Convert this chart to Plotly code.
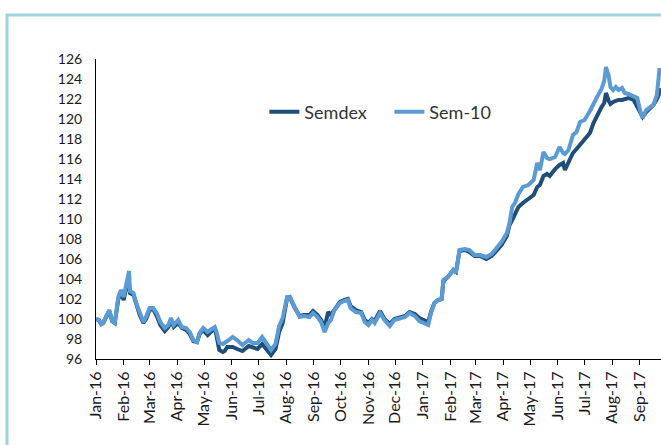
import plotly.graph_objects as go

dates = [
    "2016-01-01", "2016-01-04", "2016-01-07", "2016-01-09", "2016-01-13", "2016-01-16", "2016-01-19", "2016-01-22",
    "2016-01-26", "2016-01-29", "2016-02-01", "2016-02-04", "2016-02-07", "2016-02-08", "2016-02-12", "2016-02-15",
    "2016-02-19", "2016-02-23", "2016-02-26", "2016-03-01", "2016-03-05", "2016-03-09", "2016-03-13", "2016-03-18",
    "2016-03-22", "2016-03-25", "2016-03-28", "2016-04-02", "2016-04-06", "2016-04-11", "2016-04-15", "2016-04-19",
    "2016-04-23", "2016-04-26", "2016-04-30", "2016-05-05", "2016-05-08", "2016-05-13", "2016-05-15", "2016-05-18",
    "2016-05-22", "2016-05-24", "2016-05-27", "2016-06-02", "2016-06-07", "2016-06-13", "2016-06-20", "2016-06-24",
    "2016-06-30", "2016-07-05", "2016-07-10", "2016-07-15", "2016-07-20", "2016-07-24", "2016-07-28", "2016-07-31",
    "2016-08-02", "2016-08-05", "2016-08-10", "2016-08-16", "2016-08-21", "2016-08-27", "2016-08-31", "2016-09-05",
    "2016-09-09", "2016-09-13", "2016-09-17", "2016-09-20", "2016-09-24", "2016-09-30", "2016-10-05", "2016-10-09",
    "2016-10-12", "2016-10-18", "2016-10-24", "2016-10-28", "2016-11-01", "2016-11-05", "2016-11-08", "2016-11-14",
    "2016-11-19", "2016-11-25", "2016-11-30", "2016-12-06", "2016-12-12", "2016-12-17", "2016-12-23", "2016-12-28",
    "2017-01-03", "2017-01-07", "2017-01-10", "2017-01-14", "2017-01-18", "2017-01-22", "2017-01-24", "2017-01-29",
    "2017-02-04", "2017-02-07", "2017-02-11", "2017-02-17", "2017-02-22", "2017-02-28", "2017-03-06", "2017-03-13",
    "2017-03-19", "2017-03-25", "2017-03-30", "2017-04-05", "2017-04-08", "2017-04-11", "2017-04-14", "2017-04-18",
    "2017-04-23", "2017-04-29", "2017-05-05", "2017-05-09", "2017-05-12", "2017-05-16", "2017-05-20", "2017-05-23",
    "2017-05-29", "2017-06-03", "2017-06-07", "2017-06-09", "2017-06-13", "2017-06-18", "2017-06-22", "2017-06-26",
    "2017-07-01", "2017-07-07", "2017-07-11", "2017-07-15", "2017-07-20", "2017-07-23", "2017-07-25", "2017-07-28",
    "2017-07-30", "2017-08-02", "2017-08-05", "2017-08-08", "2017-08-12", "2017-08-15", "2017-08-19", "2017-08-25",
    "2017-08-29", "2017-09-01", "2017-09-04", "2017-09-08", "2017-09-12", "2017-09-16", "2017-09-20", "2017-09-22",
    "2017-09-23",
]

semdex = [
    100.0, 99.9, 99.5, 99.6, 100.3, 100.8, 99.8, 99.6,
    102.0, 102.6, 101.9, 103.2, 103.6, 102.6, 102.4, 101.4,
    100.4, 99.6, 100.0, 100.9, 101.0, 100.3, 99.4, 98.8,
    99.2, 99.8, 99.2, 99.6, 99.1, 98.9, 98.5, 97.8,
    97.7, 98.5, 98.9, 98.4, 98.7, 99.1, 98.3, 96.9,
    96.7, 96.8, 97.2, 97.2, 97.0, 96.8, 97.3, 97.2,
    97.0, 97.5, 97.0, 96.4, 97.0, 98.7, 99.6, 101.0,
    102.1, 102.2, 101.2, 100.3, 100.4, 100.4, 100.8, 100.4,
    99.9, 99.2, 100.7, 100.4, 100.9, 101.7, 101.9, 102.0,
    101.3, 100.9, 100.7, 99.9, 99.6, 100.0, 99.8, 100.8,
    100.0, 99.5, 100.0, 100.2, 100.3, 100.7, 100.5, 100.1,
    99.9, 99.7, 100.7, 101.6, 101.9, 102.0, 103.8, 104.2,
    104.9, 104.7, 106.8, 106.9, 106.7, 106.3, 106.3, 106.0,
    106.3, 106.9, 107.4, 108.3, 109.4, 109.9, 110.4, 111.2,
    111.6, 112.0, 112.4, 113.2, 113.4, 114.3, 114.5, 114.3,
    115.0, 115.4, 115.6, 114.9, 115.7, 116.6, 117.0, 117.4,
    117.9, 118.6, 119.6, 120.4, 121.2, 121.6, 122.6, 121.8,
    121.5, 121.7, 121.8, 121.9, 121.9, 122.0, 122.1, 121.9,
    121.2, 120.6, 120.2, 120.7, 121.1, 121.4, 122.0, 122.4,
    123.1,
]

sem10 = [
    100.0, 99.9, 99.5, 99.6, 100.4, 100.9, 99.8, 99.6,
    102.2, 102.9, 102.2, 103.6, 104.8, 102.8, 102.6, 101.6,
    100.6, 99.7, 100.2, 101.1, 101.1, 100.6, 99.7, 99.1,
    99.4, 100.1, 99.4, 99.9, 99.2, 99.1, 98.7, 97.9,
    97.7, 98.6, 99.1, 98.7, 98.9, 99.2, 98.7, 97.6,
    97.5, 97.6, 97.8, 98.2, 97.9, 97.4, 97.9, 97.6,
    97.6, 98.2, 97.5, 96.9, 97.5, 99.3, 100.1, 101.2,
    102.2, 102.2, 101.2, 100.2, 100.3, 100.2, 100.6, 100.2,
    99.7, 98.7, 99.6, 99.9, 100.9, 101.6, 101.8, 101.9,
    101.1, 100.7, 100.6, 99.7, 99.4, 99.9, 99.6, 100.6,
    99.9, 99.3, 99.9, 100.1, 100.2, 100.6, 100.3, 99.8,
    99.6, 99.4, 100.6, 101.6, 101.9, 102.0, 103.9, 104.2,
    104.9, 104.6, 106.9, 107.0, 106.9, 106.4, 106.4, 106.2,
    106.5, 107.1, 107.7, 108.6, 109.6, 111.2, 111.6, 112.5,
    113.2, 113.4, 113.9, 115.6, 114.9, 116.7, 116.1, 116.0,
    116.2, 117.2, 116.6, 116.5, 116.9, 118.4, 118.7, 119.7,
    119.9, 120.8, 121.6, 122.2, 123.0, 123.8, 125.2, 124.3,
    123.2, 122.9, 123.2, 122.9, 123.1, 122.6, 122.5, 122.3,
    122.1, 120.9, 120.1, 120.9, 121.2, 121.4, 122.4, 124.1,
    125.1,
]

y_ticks = list(range(96, 127, 2))

DARK = "#1F4E79"
LIGHT = "#5B9BD5"
FONT = "Lato"

fig = go.Figure()
fig.add_trace(go.Scatter(x=dates, y=semdex, name="Semdex", mode="lines",
                         line=dict(color=DARK, width=4)))
fig.add_trace(go.Scatter(x=dates, y=sem10, name="Sem-10", mode="lines",
                         line=dict(color=LIGHT, width=4)))

fig.update_layout(
    width=661, height=445,
    margin=dict(l=96, r=0, t=59, b=86),
    paper_bgcolor="white", plot_bgcolor="white",
    font=dict(family=FONT, color="#222222"),
    showlegend=True,
    legend=dict(orientation="h", x=0.298, y=0.823, xanchor="left", yanchor="middle",
                font=dict(size=18, color="#333333", family=FONT),
                bgcolor="rgba(0,0,0,0)", itemwidth=30, tracegroupgap=0,
                entrywidth=80, entrywidthmode="pixels"),
    shapes=[dict(type="rect", xref="paper", yref="paper",
                 x0=-0.1575, x1=1.3, y0=-0.6, y1=1.1467,
                 line=dict(color="#9FD3DF", width=3), fillcolor="rgba(0,0,0,0)", layer="below")],
)

fig.update_xaxes(
    type="date",
    range=["2016-01-01", "2017-09-24 14:00"],
    tick0="2016-01-01", dtick="M1", tickformat="%b-%y",
    tickangle=-90,
    ticks="outside", ticklen=5, tickcolor="#000000", tickwidth=1,
    showline=True, linecolor="#000000", linewidth=1,
    showgrid=False, zeroline=False,
    tickfont=dict(size=16, family=FONT, color="#1a1a1a"),
)
fig.update_yaxes(
    range=[96, 126],
    tickvals=y_ticks,
    ticks="", showline=True, linecolor="#000000", linewidth=1,
    showgrid=False, zeroline=False,
    ticklabelstandoff=10,
    tickfont=dict(size=14, family=FONT, color="#1a1a1a"),
)

fig.write_html("out.html", config={"displayModeBar": False},
               post_script="document.body.style.margin='0';document.body.style.overflow='hidden';")
